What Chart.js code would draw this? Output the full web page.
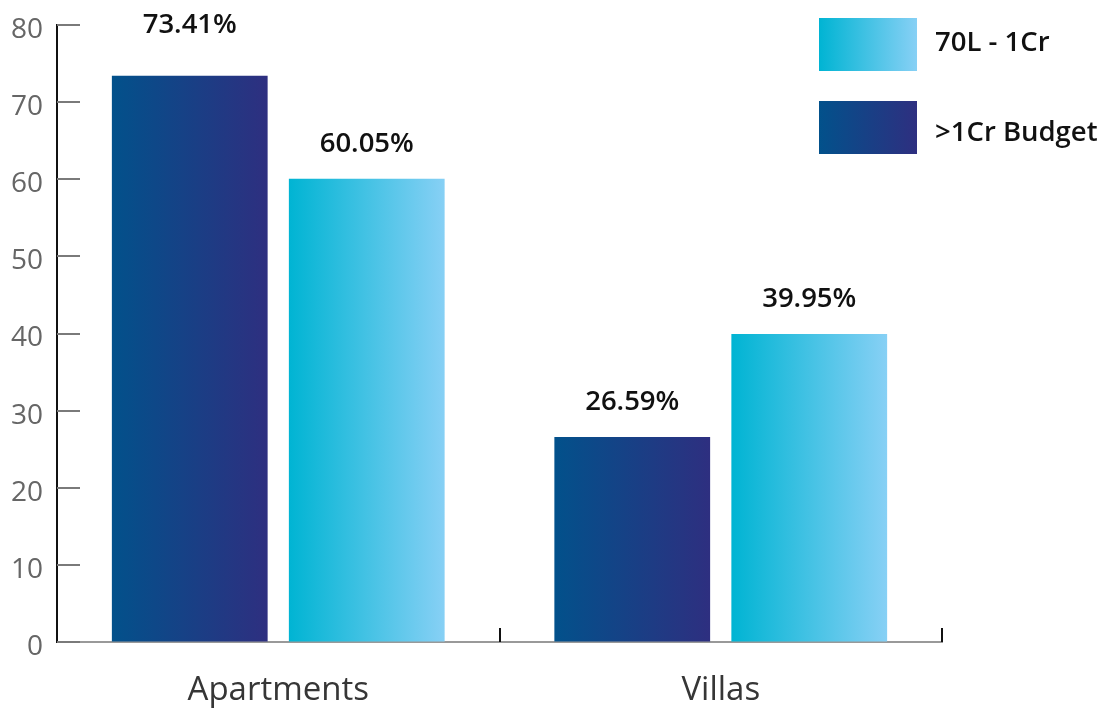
<!DOCTYPE html>
<html>
<head>
<meta charset="utf-8">
<script src="https://cdn.jsdelivr.net/npm/chart.js@4.4.1/dist/chart.umd.min.js"></script>
<style>
  html, body { margin: 0; padding: 0; background: #fff; }
  #wrap { width: 1109px; height: 709px; position: relative; }
</style>
</head>
<body>
<div id="wrap"><canvas id="budgetChart"></canvas></div>
<script>
const categories = ["Apartments", "Villas"];
const premiumBudget = [73.41, 26.59];   // >1Cr Budget
const midBudget = [60.05, 39.95];       // 70L - 1Cr
const yTicks = [0, 10, 20, 30, 40, 50, 60, 70, 80];

const CAT_PCT = 0.8;
const BAR_PCT = 0.88;

const palette = {
  premium: ["#02518b", "#2e2f80"],
  mid: ["#00b4d3", "#87d0f5"],
};

// horizontal gradient across one bar, computed from the x scale
const barGradient = (stops) => (ctx) => {
  const chart = ctx.chart;
  const xScale = chart.scales.x;
  if (!xScale || ctx.type !== "data") return stops[0];
  const catWidth = xScale.width / categories.length;
  const slot = (catWidth * CAT_PCT) / 2;
  const barW = slot * BAR_PCT;
  const center = xScale.getPixelForValue(ctx.dataIndex) + (ctx.datasetIndex - 0.5) * slot;
  if (![catWidth, center].every(Number.isFinite)) return stops[0];
  const g = chart.ctx.createLinearGradient(center - barW / 2, 0, center + barW / 2, 0);
  g.addColorStop(0, stops[0]);
  g.addColorStop(1, stops[1]);
  return g;
};

// small inner tick marks on both axes
const axisMarks = {
  id: "axisMarks",
  afterDatasetsDraw(chart) {
    const { ctx, chartArea, scales } = chart;
    ctx.save();
    ctx.lineWidth = 2;
    ctx.strokeStyle = "#7a7a7a";
    scales.y.ticks.forEach((t) => {
      const y = Math.round(scales.y.getPixelForValue(t.value));
      ctx.beginPath();
      ctx.moveTo(chartArea.left, y);
      ctx.lineTo(chartArea.left + 23, y);
      ctx.stroke();
    });
    ctx.strokeStyle = "#111";
    const catWidth = (chartArea.right - chartArea.left) / categories.length;
    for (let i = 1; i <= categories.length; i++) {
      const x = Math.round(chartArea.left + catWidth * i);
      ctx.beginPath();
      ctx.moveTo(x, chartArea.bottom - 14);
      ctx.lineTo(x, chartArea.bottom);
      ctx.stroke();
    }
    ctx.restore();
  },
};

// value labels above each bar; a label that would run into the top edge sits at the top
const valueLabels = {
  id: "valueLabels",
  afterDatasetsDraw(chart) {
    const { ctx, chartArea } = chart;
    ctx.save();
    ctx.font = "600 27.5px 'Open Sans'";
    ctx.fillStyle = "#111";
    ctx.textAlign = "center";
    ctx.textBaseline = "alphabetic";
    chart.data.datasets.forEach((ds, di) => {
      chart.getDatasetMeta(di).data.forEach((bar, i) => {
        let base = bar.y - 27;
        if (base - 26 < chartArea.top) base = chartArea.top + 8;
        ctx.fillText(ds.data[i].toFixed(2) + "%", bar.x, base);
      });
    });
    ctx.restore();
  },
};

// legend in the top right corner, cheaper tier listed first
const sideLegend = {
  id: "sideLegend",
  afterDraw(chart) {
    const { ctx } = chart;
    const items = chart.data.datasets.slice().reverse();
    const rows = [{ y: 18, base: 51 }, { y: 101, base: 141 }];
    ctx.save();
    ctx.font = "600 27.5px 'Open Sans'";
    ctx.textBaseline = "alphabetic";
    items.forEach((ds, i) => {
      const x = 819, w = 98, h = 53, y = rows[i].y;
      const g = ctx.createLinearGradient(x, 0, x + w, 0);
      g.addColorStop(0, ds.stops[0]);
      g.addColorStop(1, ds.stops[1]);
      ctx.fillStyle = g;
      ctx.fillRect(x, y, w, h);
      ctx.fillStyle = "#111";
      ctx.fillText(ds.label, 935, rows[i].base);
    });
    ctx.restore();
  },
};

new Chart(document.getElementById("budgetChart"), {
  type: "bar",
  data: {
    labels: categories,
    datasets: [
      {
        label: ">1Cr Budget",
        data: premiumBudget,
        stops: palette.premium,
        backgroundColor: barGradient(palette.premium),
      },
      {
        label: "70L - 1Cr",
        data: midBudget,
        stops: palette.mid,
        backgroundColor: barGradient(palette.mid),
      },
    ],
  },
  options: {
    responsive: true,
    maintainAspectRatio: false,
    animation: false,
    categoryPercentage: CAT_PCT,
    barPercentage: BAR_PCT,
    layout: { padding: { top: 25, right: 167, left: 0, bottom: 0 } },
    plugins: {
      legend: { display: false },
      tooltip: { enabled: false },
    },
    scales: {
      x: {
        grid: { drawOnChartArea: false, drawTicks: false },
        border: { color: "#999", width: 2 },
        ticks: {
          color: "#363636",
          font: { family: "'Open Sans'", size: 33 },
          padding: 29,
        },
        afterFit(scale) { scale.height = 67; },
      },
      y: {
        min: 0,
        max: 80,
        grid: { drawOnChartArea: false, drawTicks: false },
        border: { color: "#111", width: 2 },
        afterBuildTicks(scale) { scale.ticks = yTicks.map((v) => ({ value: v })); },
        ticks: {
          color: "#666",
          font: { family: "'Open Sans'", size: 28 },
          padding: 14,
          labelOffset: 5,
        },
        afterFit(scale) {
          scale.width = 57;
          scale.paddingTop = 0;
          scale.paddingBottom = 0;
        },
      },
    },
  },
  plugins: [axisMarks, valueLabels, sideLegend],
});
</script>
</body>
</html>
